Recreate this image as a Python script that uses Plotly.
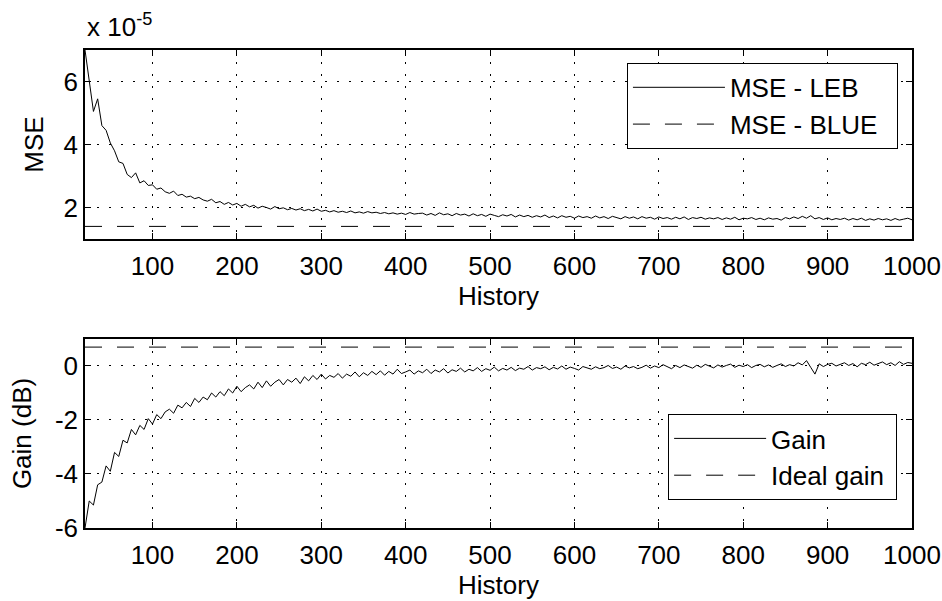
import plotly.graph_objects as go
from plotly.subplots import make_subplots

# ---------------- data ----------------
history = list(range(20, 1001, 5))

# MSE of LEB estimator, in units of 1e-5
mse_leb_e5 = [
    7.00, 5.95, 5.05, 5.45, 4.60, 4.45, 4.05, 3.80, 3.45, 3.40,
    3.05, 2.95, 3.10, 2.78, 2.85, 2.70, 2.72, 2.58, 2.62, 2.50,
    2.45, 2.52, 2.38, 2.42, 2.33, 2.36, 2.28, 2.32, 2.24, 2.20,
    2.26, 2.15, 2.19, 2.10, 2.16, 2.08, 2.13, 2.04, 2.10, 2.02,
    2.07, 1.98, 2.04, 2.00, 1.95, 2.03, 1.96, 1.99, 1.93, 1.97,
    1.92, 1.96, 1.90, 1.94, 1.89, 1.95, 1.88, 1.91, 1.86, 1.90,
    1.85, 1.88, 1.84, 1.89, 1.83, 1.86, 1.82, 1.87, 1.83, 1.85,
    1.81, 1.84, 1.80, 1.83, 1.79, 1.82, 1.78, 1.84, 1.79, 1.81,
    1.82, 1.76, 1.81, 1.75, 1.83, 1.77, 1.80, 1.74, 1.81, 1.76,
    1.79, 1.73, 1.80, 1.74, 1.78, 1.72, 1.79, 1.75, 1.71, 1.77,
    1.73, 1.78, 1.70, 1.76, 1.71, 1.75, 1.69, 1.74, 1.70, 1.76,
    1.68, 1.73, 1.67, 1.74, 1.69, 1.72, 1.66, 1.73, 1.68, 1.71,
    1.66, 1.73, 1.67, 1.71, 1.65, 1.72, 1.68, 1.64, 1.71, 1.66,
    1.70, 1.64, 1.71, 1.66, 1.69, 1.63, 1.70, 1.65, 1.68, 1.63,
    1.69, 1.64, 1.70, 1.62, 1.68, 1.65, 1.69, 1.63, 1.67, 1.64,
    1.68, 1.62, 1.67, 1.63, 1.69, 1.61, 1.66, 1.64, 1.68, 1.62,
    1.66, 1.61, 1.67, 1.63, 1.65, 1.60, 1.68, 1.64, 1.70, 1.65,
    1.72, 1.66, 1.74, 1.64, 1.68, 1.62, 1.67, 1.61, 1.65, 1.62,
    1.66, 1.60, 1.65, 1.61, 1.66, 1.59, 1.64, 1.60, 1.65, 1.61,
    1.64, 1.59, 1.65, 1.60, 1.63, 1.66, 1.61,
]
mse_blue_e5 = 1.4

gain_db = [
    -6.00, -5.00, -5.15, -4.40, -4.30, -3.70, -3.90, -3.20, -3.35, -2.75,
    -2.85, -2.35, -2.55, -2.20, -2.35, -1.95, -2.15, -1.80, -1.95, -1.70,
    -1.60, -1.75, -1.45, -1.55, -1.35, -1.50, -1.20, -1.35, -1.15, -1.25,
    -1.00, -1.15, -0.95, -1.10, -0.85, -1.00, -0.75, -0.95, -0.80, -0.70,
    -0.85, -0.60, -0.80, -0.55, -0.75, -0.60, -0.50, -0.70, -0.50, -0.60,
    -0.45, -0.65, -0.40, -0.55, -0.35, -0.50, -0.30, -0.48, -0.35, -0.42,
    -0.28, -0.45, -0.30, -0.38, -0.22, -0.40, -0.25, -0.35, -0.20, -0.32,
    -0.18, -0.34, -0.20, -0.30, -0.12, -0.28, -0.22, -0.15, -0.30, -0.18,
    -0.25, -0.12, -0.28, -0.15, -0.22, -0.10, -0.26, -0.14, -0.20, -0.08,
    -0.22, -0.12, -0.18, -0.06, -0.20, -0.10, -0.16, -0.04, -0.18, -0.09,
    -0.15, -0.05, -0.17, -0.08, -0.12, -0.02, -0.15, -0.06, -0.10, -0.03,
    -0.14, -0.05, -0.11, 0.00, -0.12, -0.04, -0.09, -0.15, -0.02, -0.08,
    -0.12, -0.03, -0.10, -0.06, 0.02, -0.09, -0.04, -0.12, 0.00, -0.07,
    -0.02, -0.10, -0.05, 0.03, -0.08, 0.00, -0.06, 0.05, -0.04, -0.10,
    0.02, -0.06, 0.04, -0.03, -0.08, 0.03, -0.05, 0.06, -0.02, -0.07,
    0.04, -0.04, 0.02, 0.07, -0.05, 0.03, -0.02, 0.05, -0.06, 0.02,
    0.06, -0.03, 0.04, -0.05, 0.02, 0.08, -0.02, 0.05, 0.00, 0.12,
    0.04, 0.20, -0.05, -0.30, 0.08, -0.02, 0.06, 0.10, 0.00, 0.07,
    0.12, 0.02, 0.09, -0.03, 0.10, 0.05, 0.14, 0.03, 0.08, 0.15,
    0.05, 0.12, 0.02, 0.16, 0.06, 0.13, 0.10,
]
ideal_gain_db = 0.7

x_ticks = [100, 200, 300, 400, 500, 600, 700, 800, 900, 1000]
mse_ticks = [2, 4, 6]
gain_ticks = [-6, -4, -2, 0]
gain_tick_labels = ["-6", "-4", "-2", "0"]

# ---------------- figure ----------------
FONT = "Liberation Sans, Arial, Helvetica, sans-serif"
FS = 26
NB = "\u00a0"

fig = make_subplots(rows=2, cols=1)

fig.add_trace(go.Scatter(x=history, y=mse_leb_e5, mode="lines", name="MSE - LEB",
                         line=dict(color="black", width=1), legend="legend"), row=1, col=1)
fig.add_trace(go.Scatter(x=[history[0], history[-1]], y=[mse_blue_e5, mse_blue_e5],
                         mode="lines", name="MSE - BLUE" + NB * 2,
                         line=dict(color="black", width=1, dash="17px,15px"), legend="legend"),
              row=1, col=1)
fig.add_trace(go.Scatter(x=history, y=gain_db, mode="lines", name="Gain",
                         line=dict(color="black", width=1), legend="legend2"), row=2, col=1)
fig.add_trace(go.Scatter(x=[history[0], history[-1]], y=[ideal_gain_db, ideal_gain_db],
                         mode="lines", name="Ideal gain" + NB,
                         line=dict(color="black", width=1, dash="17px,15px"), legend="legend2"),
              row=2, col=1)

axis_common = dict(
    showline=True, linecolor="black", linewidth=1.5, mirror="ticks",
    ticks="inside", ticklen=6, tickcolor="black", tickwidth=1,
    showgrid=True, gridcolor="black", gridwidth=1, griddash="2px,10px",
    zeroline=False, automargin=False,
    tickfont=dict(family=FONT, size=FS, color="black"),
)

for r in (1, 2):
    fig.update_xaxes(range=[20, 1000], tickvals=x_ticks, ticklabelstandoff=3,
                     title=dict(text="History", font=dict(family=FONT, size=FS, color="black"),
                                standoff=4),
                     row=r, col=1, **axis_common)

fig.update_yaxes(range=[1, 7], tickvals=mse_ticks,
                 title=dict(text="MSE", font=dict(family=FONT, size=FS, color="black"),
                            standoff=12),
                 row=1, col=1, **axis_common)
fig.update_yaxes(range=[-6, 1], tickvals=gain_ticks, ticktext=gain_tick_labels,
                 title=dict(text="Gain (dB)", font=dict(family=FONT, size=FS, color="black"),
                            standoff=16),
                 row=2, col=1, **axis_common)

fig.update_layout(
    width=942, height=601,
    margin=dict(l=85, r=30, t=50, b=73),
    paper_bgcolor="white", plot_bgcolor="white",
    font=dict(family=FONT, size=FS, color="black"),
    xaxis=dict(domain=[0, 1]), xaxis2=dict(domain=[0, 1]),
    yaxis=dict(domain=[0.6046, 1.0]), yaxis2=dict(domain=[0.0, 0.3954]),
    legend=dict(x=0.983, y=0.973, xanchor="right", yanchor="top",
                bordercolor="black", borderwidth=1, bgcolor="white",
                font=dict(family=FONT, size=FS, color="black"), itemwidth=92),
    legend2=dict(x=0.982, y=0.2385, xanchor="right", yanchor="top",
                 bordercolor="black", borderwidth=1, bgcolor="white",
                 font=dict(family=FONT, size=FS, color="black"), itemwidth=92),
    showlegend=True,
    annotations=[dict(text="x 10<sup>-5</sup>", xref="paper", yref="paper",
                      x=0.0, y=1.0, xanchor="left", yanchor="bottom", yshift=6,
                      showarrow=False, font=dict(family=FONT, size=FS, color="black"))],
)

fig.write_html("out.html")
